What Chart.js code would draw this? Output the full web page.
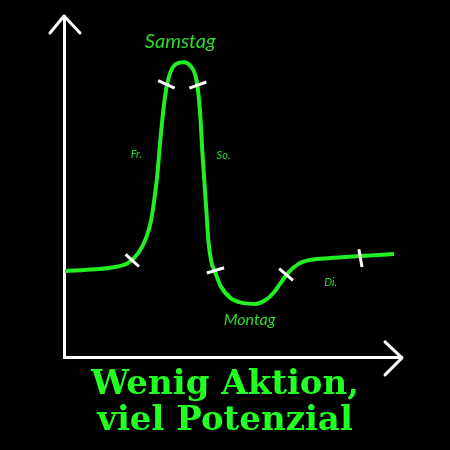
<!DOCTYPE html>
<html>
<head>
<meta charset="utf-8">
<script src="https://cdn.jsdelivr.net/npm/chart.js@4/dist/chart.umd.min.js"></script>
<style>
    html, body { margin: 0; padding: 0; background: #000; }
    #wrap { width: 450px; height: 450px; }
</style>
</head>
<body>
<div id="wrap"><canvas id="activityChart"></canvas></div>
<script>
// Activity over the week (x: time, y: activity, both 0-100)
const curveX = [0.3, 9.2, 15.1, 19.0, 22.0, 24.3, 25.8, 26.7, 27.6, 28.5, 29.4, 30.3, 31.5, 33.2, 35.6, 37.4, 38.9, 39.8, 40.4, 40.9, 41.5, 42.1, 42.7, 43.6, 44.8, 46.3, 49.3, 52.8, 56.7, 59.3, 61.7, 64.1, 66.5, 69.4, 73.0, 78.9, 87.8, 97.6];
const curveY = [25.4, 25.9, 26.6, 27.8, 30.7, 35.1, 40.4, 46.2, 53.5, 63.7, 72.5, 78.9, 83.6, 86.0, 86.5, 85.4, 82.5, 76.9, 69.6, 60.8, 52.0, 43.3, 34.5, 28.1, 24.9, 21.1, 17.5, 16.1, 15.8, 16.7, 18.7, 21.9, 25.1, 27.5, 28.7, 29.2, 29.8, 30.4];

// Day boundaries marked on the curve
const markX = [20.2, 30.3, 39.6, 44.8, 65.7, 87.7];
const markY = [28.5, 80.0, 79.8, 25.6, 24.4, 29.2];
const markAngle = [42, 24, -20, -17, 40, 80];

// Day names written next to the curve
const dayNames = ['Samstag', 'Fr.', 'So.', 'Montag', 'Di.'];
const dayX = [34.4, 21.4, 47.2, 54.9, 78.9];
const dayY = [92.4, 59.4, 59.1, 11.1, 22.2];
const daySize = [20, 11, 11, 16, 11];

const titleLines = ['Wenig Aktion,', 'viel Potenzial'];

const GREEN = '#22ee22';

// Draws the arrow heads on both axes and the day names
const sketchPlugin = {
    id: 'sketch',
    afterDatasetsDraw(chart) {
        const ctx = chart.ctx;
        const a = chart.chartArea;
        ctx.save();
        ctx.strokeStyle = '#fff';
        ctx.lineWidth = 3;
        ctx.lineCap = 'round';
        ctx.lineJoin = 'round';
        // y arrow
        ctx.beginPath();
        ctx.moveTo(a.left - 14, a.top + 17);
        ctx.lineTo(a.left, a.top);
        ctx.lineTo(a.left + 16, a.top + 17);
        ctx.stroke();
        // x arrow
        ctx.beginPath();
        ctx.moveTo(a.right - 17, a.bottom - 16);
        ctx.lineTo(a.right, a.bottom);
        ctx.lineTo(a.right - 17, a.bottom + 17);
        ctx.stroke();

        const xs = chart.scales.x;
        const ys = chart.scales.y;
        ctx.fillStyle = '#2bdc2b';
        ctx.textAlign = 'center';
        ctx.textBaseline = 'middle';
        dayNames.forEach((name, i) => {
            ctx.font = `italic ${daySize[i]}px Lato, "DejaVu Sans", sans-serif`;
            ctx.fillText(name, xs.getPixelForValue(dayX[i]), ys.getPixelForValue(dayY[i]));
        });
        ctx.restore();
    }
};

new Chart(document.getElementById('activityChart'), {
    type: 'scatter',
    data: {
        datasets: [
            {
                label: 'Aktivität',
                data: curveX.map((x, i) => ({ x: x, y: curveY[i] })),
                showLine: true,
                borderColor: GREEN,
                borderWidth: 4,
                pointRadius: 0,
                cubicInterpolationMode: 'monotone',
                order: 2
            },
            {
                label: 'Tage',
                data: markX.map((x, i) => ({ x: x, y: markY[i] })),
                showLine: false,
                pointStyle: 'line',
                pointRadius: 9,
                rotation: markAngle,
                borderColor: '#fff',
                borderWidth: 3,
                order: 1
            }
        ]
    },
    options: {
        responsive: true,
        maintainAspectRatio: false,
        animation: false,
        layout: { padding: { left: 0, right: 0, top: 16, bottom: 0 } },
        scales: {
            x: {
                type: 'linear',
                min: 0,
                max: 100,
                ticks: { display: false },
                grid: { display: false },
                border: { color: '#fff', width: 3 },
                afterFit: (s) => { s.height = 0; }
            },
            y: {
                min: 0,
                max: 100,
                ticks: { display: false },
                grid: { display: false },
                border: { color: '#fff', width: 3 },
                afterFit: (s) => { s.width = 64; }
            },
            yRight: {
                position: 'right',
                min: 0,
                max: 100,
                ticks: { display: false },
                grid: { display: false },
                border: { display: false },
                afterFit: (s) => { s.width = 48; }
            }
        },
        plugins: {
            legend: { display: false },
            tooltip: { enabled: false },
            title: {
                display: true,
                position: 'bottom',
                text: titleLines,
                color: '#22ff22',
                font: { family: '"DejaVu Serif", serif', weight: 'bold', size: 34, lineHeight: 1.06 },
                padding: { top: 9, bottom: 11 }
            }
        }
    },
    plugins: [sketchPlugin]
});
</script>
</body>
</html>
